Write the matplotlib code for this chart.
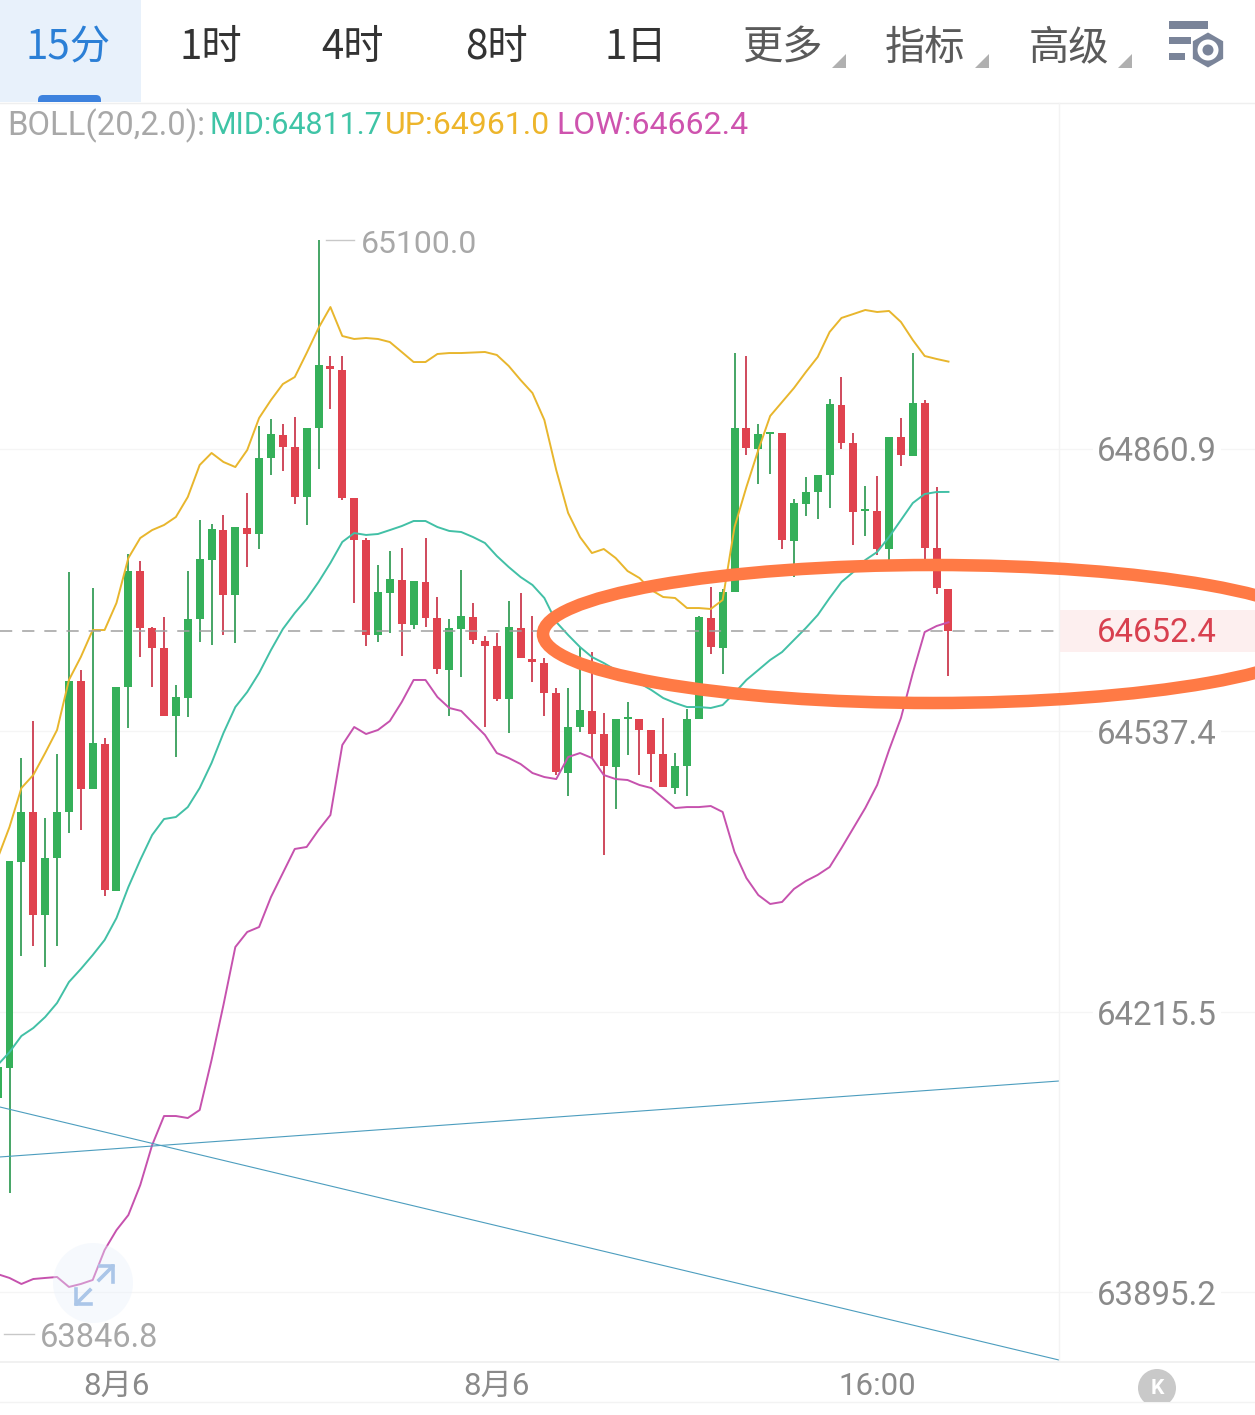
import matplotlib
matplotlib.use('Agg')
import matplotlib.pyplot as plt
from matplotlib.patches import Rectangle, Ellipse, Circle, RegularPolygon, Polygon, FancyBboxPatch

plt.rcParams['font.family'] = ['Roboto', 'Noto Sans CJK SC', 'DejaVu Sans']

# candle values, first one is only half on screen
opens = [64117, 64152, 64388, 64445, 64327, 64392, 64445, 64595, 64471, 64523, 64355,
         64588, 64721, 64656, 64633, 64555, 64576, 64666, 64734, 64768, 64694,
         64770, 64764, 64851, 64877, 64863, 64806, 64885, 64956, 64951, 64805,
         64757, 64648, 64696, 64711, 64659, 64708, 64667, 64608, 64655, 64668,
         64641, 64635, 64574, 64656, 64620, 64616, 64581, 64490, 64542, 64561,
         64534, 64497, 64552, 64552, 64539, 64511, 64472, 64498, 64552, 64667,
         64633, 64697, 64885, 64861, 64878, 64879, 64755, 64798, 64812, 64831,
         64911, 64868, 64790, 64790, 64746, 64875, 64853, 64914, 64747, 64701]
highs = [64153, 64389, 64507, 64549, 64438, 64512, 64720, 64608, 64702, 64530, 64588,
         64741, 64733, 64657, 64668, 64591, 64721, 64780, 64775, 64785, 64772,
         64811, 64887, 64895, 64890, 64898, 64885, 65100, 64967, 64967, 64805,
         64759, 64728, 64744, 64747, 64710, 64759, 64691, 64666, 64722, 64684,
         64647, 64650, 64687, 64696, 64670, 64622, 64587, 64587, 64634, 64628,
         64558, 64552, 64571, 64552, 64539, 64553, 64513, 64563, 64670, 64703,
         64700, 64971, 64967, 64890, 64880, 64879, 64804, 64829, 64831, 64918,
         64943, 64879, 64819, 64830, 64875, 64896, 64971, 64917, 64817, 64701]
lows = [64117, 64009, 64280, 64292, 64268, 64292, 64421, 64424, 64471, 64349, 64355,
        64541, 64623, 64588, 64555, 64508, 64554, 64640, 64636, 64648, 64639,
        64726, 64746, 64831, 64836, 64798, 64774, 64838, 64907, 64802, 64684,
        64635, 64640, 64650, 64624, 64655, 64657, 64603, 64555, 64600, 64637,
        64542, 64572, 64535, 64622, 64594, 64555, 64487, 64463, 64537, 64507,
        64396, 64448, 64510, 64487, 64479, 64474, 64466, 64463, 64552, 64626,
        64603, 64697, 64854, 64821, 64832, 64746, 64714, 64784, 64781, 64793,
        64861, 64751, 64761, 64739, 64734, 64841, 64853, 64734, 64695, 64601]
closes = [64153, 64389, 64445, 64327, 64392, 64445, 64595, 64471, 64524, 64356, 64588,
          64721, 64656, 64633, 64555, 64577, 64666, 64735, 64769, 64694, 64772,
          64764, 64851, 64878, 64863, 64806, 64885, 64957, 64953, 64805, 64757,
          64648, 64697, 64712, 64660, 64710, 64667, 64609, 64656, 64670, 64642,
          64635, 64574, 64657, 64622, 64617, 64581, 64491, 64542, 64562, 64534,
          64498, 64552, 64553, 64539, 64511, 64474, 64498, 64552, 64668, 64634,
          64697, 64885, 64862, 64878, 64880, 64757, 64799, 64812, 64831, 64912,
          64868, 64789, 64791, 64746, 64875, 64854, 64914, 64747, 64702, 64652.4]

# BOLL(20,2.0)
boll_up = [64392, 64427.9, 64472.5, 64487.4, 64512.6, 64539, 64596.3, 64622.6, 64653.5, 64653.5, 64684.5,
           64736, 64758.9, 64768, 64773.8, 64783, 64805.9, 64842.5, 64856.3, 64846, 64840.2,
           64859.7, 64896.4, 64917, 64935.3, 64943.3, 64970.8, 64999.5, 65023.5, 64990.3, 64986.9,
           64988, 64986.9, 64983.4, 64972, 64960.5, 64960.5, 64969.7, 64970.8, 64970.8, 64971.4,
           64972, 64968.6, 64956, 64939.9, 64925, 64894.1, 64836.8, 64787.6, 64760, 64741.7,
           64746.3, 64736, 64721.1, 64713.1, 64699.3, 64691.3, 64690.2, 64678.7, 64678.7, 64677.6,
           64687.9, 64771.5, 64817.3, 64859.7, 64898.7, 64914.7, 64930.7, 64949, 64966.3, 64994.9,
           65011, 65015.5, 65020.1, 65017.8, 65019, 65006.4, 64985.7, 64967.4, 64964, 64961]
boll_mid = [64155.2, 64170, 64188.5, 64197.6, 64210.2, 64226.3, 64250.3, 64265.2, 64281.2, 64298.4, 64323.6,
            64359.1, 64390.1, 64418.7, 64437, 64439.3, 64450.7, 64472.5, 64501.2, 64535.5, 64565.3,
            64582.5, 64604.3, 64630.6, 64654.7, 64673, 64689, 64708.5, 64730.3, 64754.4, 64764.6,
            64762.4, 64763.5, 64768, 64772.6, 64778.4, 64778.4, 64771.5, 64767, 64765.8, 64760,
            64753.2, 64738.3, 64725.7, 64714.2, 64705.1, 64690.2, 64662.7, 64647.8, 64634, 64622.6,
            64615.7, 64607.7, 64599.7, 64592.8, 64584.8, 64575.6, 64569.9, 64565.3, 64565.3, 64564.2,
            64567.6, 64581.4, 64596.3, 64607.7, 64619.2, 64628.3, 64642.1, 64655.8, 64670.7, 64690.2,
            64708.5, 64720, 64733.7, 64742.9, 64760, 64779.5, 64799, 64809.3, 64811.6, 64811.7]
boll_low = [63915.7, 63911.3, 63904.4, 63910.1, 63911.3, 63912.4, 63901, 63904.4, 63909, 63943.3, 63966.1,
            63983.4, 64017.7, 64063.5, 64096.8, 64096.8, 64094.5, 64103.7, 64161, 64224, 64290.4,
            64307.6, 64313.3, 64347.7, 64375.2, 64402.7, 64405, 64424.4, 64441.6, 64521.8, 64542.4,
            64534.4, 64539, 64549.3, 64571, 64596.3, 64596.3, 64576.8, 64564.2, 64560.8, 64547,
            64533.3, 64512.6, 64506.9, 64500, 64489.7, 64485.1, 64482.8, 64508, 64512.6, 64506.9,
            64487.4, 64482.8, 64481.7, 64476, 64472.5, 64461.1, 64449.6, 64450.7, 64450.7, 64451.9,
            64445.1, 64399.2, 64369.4, 64349.9, 64339.7, 64342, 64356.9, 64366, 64373, 64382,
            64403.8, 64426.7, 64449.6, 64476, 64516, 64552.7, 64604.3, 64651.2, 64658.1, 64662.4]

# two hand drawn trend lines
trend_x = [-0.8, 88.3]
trend_rise = [64049.9, 64136.9]
trend_fall = [64107.1, 63817.3]

price_ticks = [64860.9, 64537.4, 64215.5, 63895.2]
time_ticks = [9, 41, 73]
time_labels = ['8月6', '8月6', '16:00']
last_price = 64652.4
high_price = 65100.0
low_price = 63846.8

tabs = ['15分', '1时', '4时', '8时', '1日', '更多', '指标', '高级']
tab_x = [68, 211, 353, 496, 636, 782, 925, 1069]

W, H = 1255, 1415
GREEN = '#35B05A'
RED = '#E0434F'

fig = plt.figure(figsize=(W / 100, H / 100), dpi=100, facecolor='white')
ax = fig.add_axes([0, (H - 1361) / H, 1059 / W, (1361 - 103) / H])
ax.set_xlim(-0.8, 88.3)
ax.set_ylim(65375.2 - 1.1455 * 1361, 65375.2 - 1.1455 * 103)
for s in ax.spines.values():
    s.set_visible(False)

# grid reaches over the price column too
for p in price_ticks:
    ax.plot([0, W / 1059], [p, p], color='#F5F5F5', lw=1, transform=ax.get_yaxis_transform(),
            clip_on=False, zorder=0)

ax.yaxis.tick_right()
ax.set_yticks(price_ticks)
ax.set_yticklabels(['%.1f' % p for p in price_ticks], fontsize=23.8, color='#8A8A8A', ha='center',
                   bbox=dict(facecolor='white', edgecolor='none', pad=3))
ax.tick_params(axis='y', length=0, pad=70.5)
ax.set_xticks(time_ticks)
ax.set_xticklabels(time_labels, fontsize=22.5, color='#8A8A8A')
ax.tick_params(axis='x', length=0, pad=8)

# candles
idx = list(range(-1, len(opens) - 1))
for i in range(len(opens)):
    col = GREEN if closes[i] >= opens[i] else RED
    wick = '#45A565' if closes[i] >= opens[i] else '#CF4A5C'
    ax.vlines(idx[i], lows[i], highs[i], color=wick, lw=1.4, zorder=2)
    bottom = min(opens[i], closes[i])
    ax.bar(idx[i], max(abs(closes[i] - opens[i]), 2), width=0.67, bottom=bottom, color=col, zorder=3)

ax.plot(idx, boll_up, color='#E8B62D', lw=1.4, zorder=4)
ax.plot(idx, boll_mid, color='#42C0A6', lw=1.4, zorder=4)
ax.plot(idx, boll_low, color='#C652AE', lw=1.4, zorder=4)

ax.plot(trend_x, trend_rise, color='#4C9DBE', lw=0.8, zorder=4)
ax.plot(trend_x, trend_fall, color='#4C9DBE', lw=0.8, zorder=4)

ax.axhline(last_price, color='#A0A0A0', lw=1.1, dashes=(8, 6.5), zorder=5)

# last price tag
ax.add_patch(Rectangle((1, last_price - 24), W / 1059 - 1, 48, transform=ax.get_yaxis_transform(),
                       facecolor='#FDEFEF', edgecolor='none', clip_on=False, zorder=1))
ax.text((1157) / 1059, last_price - 2, '%.1f' % last_price, transform=ax.get_yaxis_transform(), fontsize=23.8,
        color='#D8404F', ha='center', va='center', clip_on=False, zorder=6)

# high and low marks
ax.plot([26.6, 29.0], [high_price, high_price], color='#C8C8C8', lw=1, zorder=5)
ax.text(29.55, high_price - 5, '%.1f' % high_price, fontsize=23, color='#A8A8A8', va='center', zorder=5)
ax.plot([-0.45, 2.05], [low_price, low_price], color='#C8C8C8', lw=1, zorder=5)
ax.text(2.55, low_price - 4, '%.1f' % low_price, fontsize=23.5, color='#A8A8A8', va='center', zorder=5)

# everything around the chart is drawn in pixels on a second axes
ui = fig.add_axes([0, 0, 1, 1])
ui.set_xlim(0, W)
ui.set_ylim(H, 0)
ui.axis('off')
ui.patch.set_alpha(0)

ui.add_patch(Rectangle((0, 0), 141, 102, facecolor='#E8F1FB', edgecolor='none'))
ui.add_patch(FancyBboxPatch((38, 95), 63, 14, boxstyle='round,pad=0,rounding_size=5',
                            facecolor='#3D82DE', edgecolor='none'))
ui.add_patch(Rectangle((0, 102), W, 10, facecolor='white', edgecolor='none'))
ui.plot([0, W], [102.5, 102.5], color='#EFEFEF', lw=1)
ui.plot([1059, 1059], [103, 1361], color='#F3F3F3', lw=1)
ui.plot([0, W], [1361.5, 1361.5], color='#EFEFEF', lw=1.2)
ui.plot([0, W], [1402, 1402], color='#F3F3F3', lw=1)

tab_colors = ['#2B7FD6', '#333333', '#333333', '#333333', '#333333', '#5A5A5A', '#5A5A5A', '#5A5A5A']
for t, x, c in zip(tabs, tab_x, tab_colors):
    ui.text(x, 48, t, fontsize=29, color=c, ha='center', va='center',
            family=['Noto Sans CJK SC', 'DejaVu Sans'], fontweight='light')

for x in [846, 989, 1132]:
    ui.add_patch(Polygon([(x, 54), (x, 68), (x - 14, 68)], facecolor='#B0B0B0', edgecolor='none'))

# settings icon
ICON = '#7A8499'
ui.add_patch(Rectangle((1169, 21), 39, 8, facecolor=ICON, edgecolor='none'))
ui.add_patch(Rectangle((1169, 37), 22, 7, facecolor=ICON, edgecolor='none'))
ui.add_patch(Rectangle((1169, 53), 16, 7, facecolor=ICON, edgecolor='none'))
ui.add_patch(RegularPolygon((1208, 50), 6, radius=17.5, facecolor=ICON, edgecolor='none'))
ui.add_patch(Circle((1208, 50), 10.5, facecolor='white', edgecolor='none'))
ui.add_patch(Circle((1208, 50), 5.5, facecolor=ICON, edgecolor='none'))

# indicator legend
legend_parts = [('BOLL(20,2.0):', 7, '#A8A8A8', 23.6), ('MID:64811.7', 209, '#3FC4A6', 22),
                ('UP:64961.0', 385, '#EDB52B', 23), ('LOW:64662.4', 556, '#CE53AE', 23)]
for t, x, c, fs in legend_parts:
    ui.text(x, 126, t, fontsize=fs, color=c, va='center', ha='left')

# orange circle on the screenshot
ui.add_patch(Ellipse((933, 634), 780, 138, facecolor='none', edgecolor='#FF7A45', lw=9, zorder=6))

# expand button
ui.add_patch(Circle((93, 1283), 40, facecolor='#EAF1FB', edgecolor='none', alpha=0.4, zorder=3))
ARROW = '#ABC6E8'
ui.plot([99, 113, 100], [1280, 1266, 1266], color=ARROW, lw=2.6, zorder=4)
ui.plot([113, 113], [1266, 1282], color=ARROW, lw=2.6, zorder=4)
ui.plot([90, 76, 91], [1290, 1304, 1304], color=ARROW, lw=2.6, zorder=4)
ui.plot([76, 76], [1304, 1289], color=ARROW, lw=2.6, zorder=4)

# K button, cut by the bottom line
btn = Circle((1157, 1388), 19, facecolor='#C9C9C9', edgecolor='none', zorder=4)
ui.add_patch(btn)
btn.set_clip_path(Rectangle((1130, 1360), 60, 42, transform=ui.transData))
ui.text(1157, 1388, 'K', fontsize=15, color='white', ha='center', va='center', fontweight='bold', zorder=5)

fig.savefig('out.png', dpi=100, facecolor='white')
